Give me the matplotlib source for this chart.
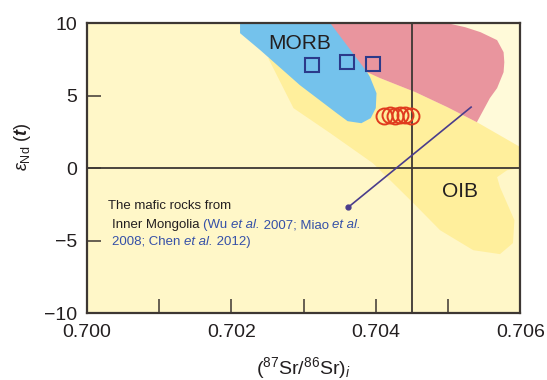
import numpy as np
import matplotlib
matplotlib.use("Agg")
import matplotlib.pyplot as plt
from matplotlib.patches import Polygon
from matplotlib.transforms import offset_copy

plt.rcParams['font.family'] = ['Liberation Sans', 'DejaVu Sans']
plt.rcParams['mathtext.fontset'] = 'custom'
plt.rcParams['mathtext.rm'] = 'Liberation Sans'
plt.rcParams['mathtext.it'] = 'Liberation Sans:italic'
plt.rcParams['mathtext.bf'] = 'Liberation Sans:italic:bold'

# field outlines (87Sr/86Sr, eNd)
morb_x = [0.70212, 0.70212, 0.70240, 0.70295, 0.70346, 0.70361, 0.70380,
          0.70393, 0.70400, 0.70401, 0.70392, 0.70371, 0.70358]
morb_y = [10.0, 9.31, 8.14, 5.72, 3.79, 3.24, 3.10, 3.45, 4.14, 5.17, 6.28, 8.14, 10.0]

pink_x = [0.70337, 0.70499, 0.70524, 0.70545, 0.70568, 0.70577, 0.70578,
          0.70577, 0.70568, 0.70558, 0.70540, 0.70499, 0.70455, 0.70406, 0.70388]
pink_y = [10.0, 10.0, 9.72, 9.38, 8.83, 8.00, 7.31, 6.62, 5.52, 4.83, 3.17,
          4.21, 5.24, 6.21, 6.62]

oib_x = [0.70251, 0.70286, 0.70337, 0.70396, 0.70452, 0.70489, 0.70535,
         0.70572, 0.70590, 0.70592, 0.70572, 0.70568, 0.70582, 0.70600,
         0.70600, 0.70540, 0.70499, 0.70455, 0.70406, 0.70364, 0.70295]
oib_y = [7.59, 4.14, 2.41, 0.34, -2.41, -4.28, -5.66, -5.93, -5.17, -3.59,
         -1.31, -0.62, -0.14, 0.0, 1.45, 3.17, 4.21, 5.24, 6.21, 7.45, 7.79]

pale_x = [0.70499, 0.70600, 0.70600, 0.70540]
pale_y = [10.0, 10.0, 1.45, 3.17]

# samples
sq_x = [0.70312, 0.70360, 0.70396]
sq_y = [7.10, 7.31, 7.17]
circ_x = [0.70412, 0.70420, 0.70427, 0.70434, 0.70441, 0.70449]
circ_y = [3.60, 3.68, 3.62, 3.70, 3.66, 3.62]

arrow_x = [0.70532, 0.70362]
arrow_y = [4.21, -2.69]

xticks = [0.700, 0.702, 0.704, 0.706]
xlabels = ['0.700', '0.702', '0.704', '0.706']
xminor = [0.701, 0.703, 0.705]
yticks = [-10, -5, 0, 5, 10]
ylabels = ['\u221210', '\u22125', '0', '5', '10']

fig = plt.figure(figsize=(5.47, 3.80), dpi=100)
ax = fig.add_axes([0.159, 0.176, 0.792, 0.763])
ax.set_facecolor('#fff7c8')

ax.add_patch(Polygon(list(zip(pale_x, pale_y)), closed=True, fc='#fffad9', ec='none', zorder=1))
ax.add_patch(Polygon(list(zip(oib_x, oib_y)), closed=True, fc='#ffef9c', ec='none', zorder=2))
ax.add_patch(Polygon(list(zip(morb_x, morb_y)), closed=True, fc='#74c2ec', ec='none', zorder=3))
ax.add_patch(Polygon(list(zip(pink_x, pink_y)), closed=True, fc='#e9959e', ec='none', zorder=4))

ax.axvline(0.7045, color='#3d3733', lw=1.3, zorder=5)
ax.axhline(0, color='#3d3733', lw=1.3, zorder=5)

ax.plot(sq_x, sq_y, ls='none', marker='s', ms=10, mfc='none', mec='#2b3a8a', mew=1.5, zorder=6)
ax.plot(circ_x, circ_y, ls='none', marker='o', ms=11.5, mfc='none', mec='#e03a1e', mew=1.4, zorder=6)
ax.plot(arrow_x, arrow_y, color='#4a3d8c', lw=1.2, zorder=6)
ax.plot(arrow_x[1], arrow_y[1], marker='o', ms=3.5, color='#4a3d8c', zorder=6)

ax.text(0.70295, 8.62, 'MORB', fontsize=15, ha='center', va='center', color='#231f20', zorder=7)
ax.text(0.70517, -1.59, 'OIB', fontsize=15, ha='center', va='center', color='#231f20', zorder=7)

ax.set_xlim(0.700, 0.706)
ax.set_ylim(-10, 10)

renderer = fig.canvas.get_renderer()

def rich_line(x, y, pieces):
    # place pieces one after another on a shared baseline
    dx = 0
    for s, color, style in pieces:
        tr = offset_copy(ax.transData, fig=fig, x=dx, y=0, units='dots')
        t = ax.text(x, y, s, color=color, style=style, fontsize=9.5,
                    ha='left', va='baseline', transform=tr, zorder=7)
        dx += t.get_window_extent(renderer).width

blue = '#3550a8'
rich_line(0.70029, -2.85, [('The mafic rocks from', '#231f20', 'normal')])
rich_line(0.70035, -4.16, [('Inner Mongolia ', '#231f20', 'normal'),
                           ('(Wu ', blue, 'normal'), ('et al.', blue, 'italic'),
                           (' 2007; Miao ', blue, 'normal'), ('et al.', blue, 'italic')])
rich_line(0.70035, -5.27, [('2008; Chen ', blue, 'normal'), ('et al.', blue, 'italic'),
                           (' 2012)', blue, 'normal')])

ax.set_xticks(xticks)
ax.set_xticklabels(xlabels)
ax.set_xticks(xminor, minor=True)
ax.set_yticks(yticks)
ax.set_yticklabels(ylabels)
ax.tick_params(axis='both', which='both', direction='in', length=10, width=1.1,
               color='#3d3733', labelsize=14, labelcolor='#231f20')
ax.tick_params(axis='x', pad=8)
ax.tick_params(axis='y', pad=7)
for sp in ax.spines.values():
    sp.set_linewidth(1.6)
    sp.set_color('#3d3733')
    sp.set_zorder(8)

ax.set_xlabel(r'($^{87}$Sr/$^{86}$Sr)$_{\it{i}}$', fontsize=14, color='#231f20')
ax.xaxis.set_label_coords(0.5, -0.19)
ax.xaxis.label.set_va('center')
ax.set_ylabel(r'$\varepsilon_{\rm Nd}$ $(\mathbf{t})$', fontsize=13, color='#231f20')
ax.yaxis.set_label_coords(-0.148, 0.572)
ax.yaxis.label.set_va('center')

plt.savefig('out.png', dpi=100)
